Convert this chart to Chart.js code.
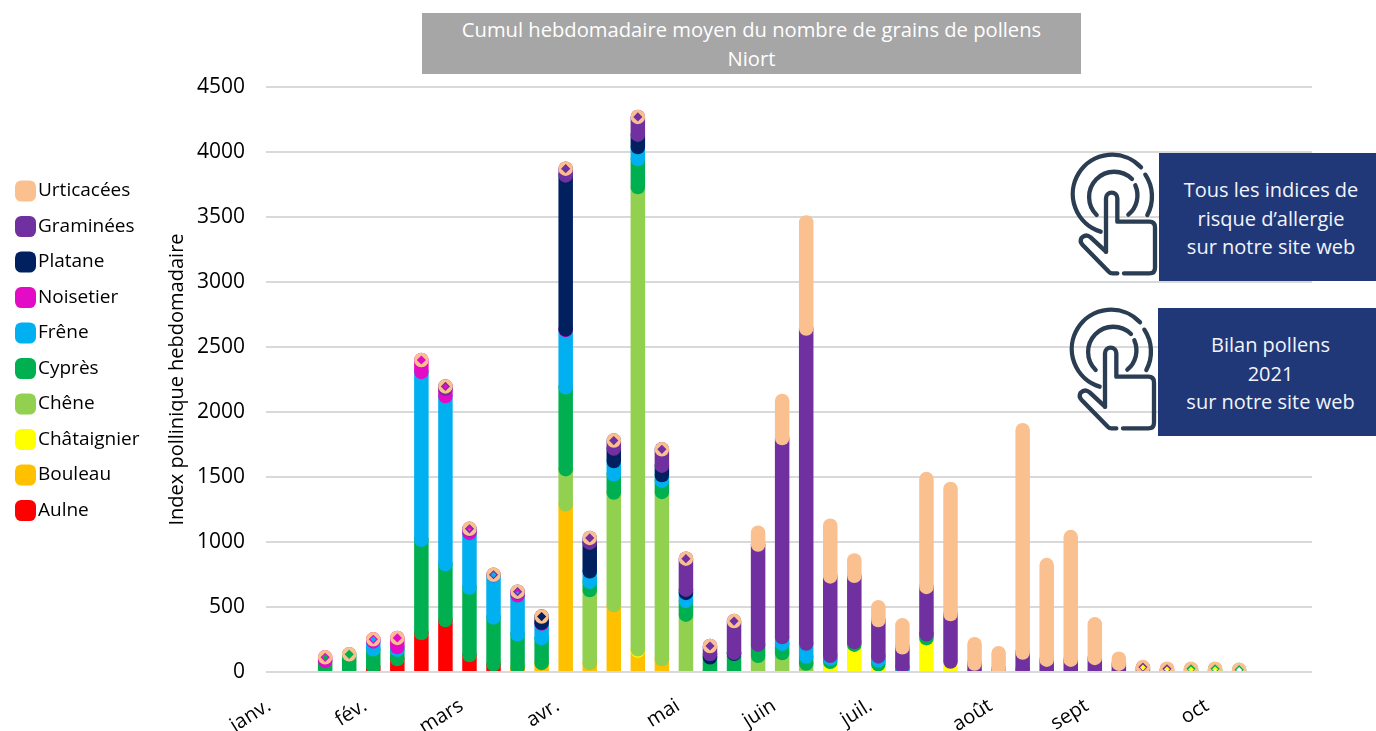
<!DOCTYPE html>
<html lang="fr">
<head>
<meta charset="utf-8">
<title>Cumul hebdomadaire moyen - Niort</title>
<script src="https://cdn.jsdelivr.net/npm/chart.js@4"></script>
<style>
  html, body { margin: 0; background: #fff; }
  #wrap { position: relative; width: 1376px; height: 731px; overflow: hidden; font-family: "Open Sans", sans-serif; }
  #chart { position: absolute; left: 0; top: 0; }
  .titleBox { position: absolute; left: 422px; top: 13px; width: 659px; height: 61px; background: #a6a6a6; color: #fff;
    font-size: 20.2px; line-height: 29px; text-align: center; padding-top: 2px; box-sizing: border-box; }
  .linkBox { position: absolute; left: 1159px; width: 217px; height: 128px; background: #203878; color: #f2f4fa;
    font-size: 20px; line-height: 28.5px; text-align: center; padding: 23px 0 0 7px; box-sizing: border-box; }
  .hand { position: absolute; width: 100px; height: 150px; fill: none; stroke: #2b3d52; stroke-width: 13; stroke-linecap: round; stroke-linejoin: round; }
</style>
</head>
<body>
<div id="wrap">
  <canvas id="chart" width="1376" height="731"></canvas>
  <div class="titleBox">Cumul hebdomadaire moyen du nombre de grains de pollens<br>Niort</div>
  <svg class="hand" style="left:1060px;top:140px" viewBox="0 0 300 450"><use href="#handIcon"/></svg>
  <svg class="hand" style="left:1059px;top:295px" viewBox="0 0 300 450">
    <g id="handIcon">
      <path d="M122 275 A118 118 0 1 1 243 82"/>
      <path d="M256 104 A118 118 0 0 1 262 225"/>
      <path d="M110 225 A75 75 0 1 1 216 117"/>
      <path d="M226 136 A75 75 0 0 1 205 224"/>
      <path d="M138 335 V175 A17 17 0 0 1 172 175 V245 H268 Q285 245 285 262 V383 Q285 400 268 400 H192"/>
      <path d="M172 400 H158 Q150 400 145 394 L68 315 Q58 305 65 293 Q78 280 92 292 L138 335"/>
    </g>
  </svg>
  <div class="linkBox" style="top:153px">Tous les indices de<br>risque d’allergie<br>sur notre site web</div>
  <div class="linkBox" style="top:308px;left:1158px;width:218px">Bilan pollens<br>2021<br>sur notre site web</div>
</div>
<script>
// one entry per week of the year
const weeks = [0,1,2,3,4,5,6,7,8,9,10,11,12,13,14,15,16,17,18,19,20,21,22,23,24,25,26,27,28,29,30,31,32,33,34,35,36,37,38,39,40,41,42];
const monthTicks = [0,4,8,12,17,21,25,30,34,39];
const monthLabels = ['janv.','fév.','mars','avr.','mai','juin','juil.','août','sept','oct'];
const yTicks = [0,500,1000,1500,2000,2500,3000,3500,4000,4500];

const aulne =       [0,0,0,0,40,100,300,400,130,60,10,0,0,0,0,0,0,0,0,0,0,0,0,0,0,0,0,0,0,0,0,0,0,0,0,0,0,0,0,0,0,0,0];
const bouleau =     [0,0,0,0,0,0,0,0,0,0,25,70,1290,70,515,165,100,5,5,0,0,0,0,0,0,0,0,0,0,0,0,0,0,0,0,0,0,0,0,0,0,0,0];
const chataignier = [0,0,0,0,0,0,0,0,0,0,0,0,0,0,0,10,0,0,0,0,5,0,5,78,210,60,15,260,80,5,0,0,10,5,3,0,14,12,5,12,0,0,0];
const chene =       [0,0,0,0,0,0,0,0,0,0,0,0,270,560,865,3555,1285,436,8,5,120,146,60,0,0,0,0,0,0,0,0,0,0,0,0,0,0,0,0,0,0,0,0];
const cypres =      [0,0,85,136,135,72,718,430,520,360,255,190,630,65,141,216,87,106,100,135,85,72,54,25,20,30,15,30,0,0,5,20,0,0,0,4,0,0,15,10,15,0,0];
const frene =       [0,0,0,0,60,20,1290,1293,420,325,300,113,440,80,102,92,43,61,0,0,0,51,100,22,0,30,15,0,0,0,0,0,0,0,0,0,0,0,0,0,0,0,0];
const noisetier =   [0,0,28,0,16,70,92,55,25,0,20,5,5,0,0,0,0,0,0,0,0,0,0,0,0,0,0,0,0,0,0,0,0,0,0,0,0,0,0,0,0,0,0];
const platane =     [0,0,0,0,0,0,0,0,0,0,0,48,1185,220,96,95,72,25,25,8,0,0,0,0,0,0,0,0,0,0,0,0,0,0,0,0,0,0,0,0,0,0,0];
const graminees =   [0,0,0,0,0,0,0,19,6,3,8,0,52,36,61,137,126,239,62,244,770,1531,2423,610,510,280,145,364,366,60,15,130,85,90,105,60,20,10,0,0,0,0,0];
const urticacees =  [0,0,0,0,0,0,0,0,0,0,0,0,0,0,0,0,0,0,0,0,92,285,816,390,118,98,169,830,962,149,125,1710,728,943,259,38,4,3,5,3,3,0,0];

const seriesNames = ['Aulne','Bouleau','Châtaignier','Chêne','Cyprès','Frêne','Noisetier','Platane','Graminées','Urticacées'];
const seriesValues = [aulne,bouleau,chataignier,chene,cypres,frene,noisetier,platane,graminees,urticacees];
const seriesColors = ['#ff0000','#ffc000','#ffff00','#92d050','#00b050','#00b0f0','#e30bc5','#002060','#7030a0','#fac090'];

const barWidth = 14.5;
const holeSizes = [4.6, 3, 1.4];

// pills that overlap upwards: every segment ends in a round cap, upper series on top,
// and a column with no urticacées keeps its little peach disc with the diamond in it
function diamond(ctx, x, y, size) {
  ctx.moveTo(x, y - size);
  ctx.lineTo(x + size, y);
  ctx.lineTo(x, y + size);
  ctx.lineTo(x - size, y);
  ctx.closePath();
}

const pillBars = {
  id: 'pillBars',
  afterLayout(chart) {
    const legend = chart.legend;
    legend.left = 6;
    legend.top = 165;
    legend.bottom = 545;
  },
  beforeDatasetsDraw(chart) {
    const { ctx, chartArea } = chart;
    const r = barWidth / 2;
    const top = seriesValues.length - 1;
    const hasPollen = weeks.map((w, j) => seriesValues.some(values => values[j] > 0));

    // a lower segment only gets a hole when it is short enough for the one below to show through
    const holes = weeks.map((w, j) => {
      const res = {};
      if (urticacees[j] >= 10) return res;
      res[top] = holeSizes[0];
      let depth = 1;
      for (let i = top - 1; i >= 0 && depth < holeSizes.length; i--) {
        if (!seriesValues[i][j]) continue;
        const bar = chart.getDatasetMeta(i).data[j];
        if (bar.base - bar.y > 4) break;
        res[i] = holeSizes[depth++];
      }
      return res;
    });

    ctx.save();
    ctx.beginPath();
    ctx.rect(chartArea.left, 0, chartArea.width, chartArea.bottom - 1);
    ctx.clip();
    seriesValues.forEach((values, i) => {
      const meta = chart.getDatasetMeta(i);
      ctx.fillStyle = seriesColors[i];
      meta.data.forEach((bar, j) => {
        if (!values[j] && !(i === top && hasPollen[j])) return;
        ctx.beginPath();
        ctx.roundRect(bar.x - r, bar.y - r, barWidth, bar.base - bar.y + barWidth, r);
        if (holes[j][i]) diamond(ctx, bar.x, bar.y, holes[j][i]);
        ctx.fill('evenodd');
      });
    });
    ctx.restore();
    return false;
  }
};

const datasets = seriesNames.map((name, i) => ({
  label: name,
  data: seriesValues[i],
  backgroundColor: seriesColors[i],
  borderColor: seriesColors[i],
  stack: 'pollens'
}));

new Chart(document.getElementById('chart'), {
  type: 'bar',
  data: { labels: weeks, datasets },
  plugins: [pillBars],
  options: {
    responsive: false,
    animation: false,
    layout: { autoPadding: false, padding: { left: 0, right: 64, top: 87, bottom: 0 } },
    plugins: {
      title: { display: false },
      tooltip: { enabled: false },
      legend: {
        position: 'left',
        align: 'start',
        reverse: true,
        labels: {
          usePointStyle: true,
          pointStyle: 'rectRounded',
          boxWidth: 6,
          boxHeight: 17.3,
          padding: 16.5,
          color: '#000',
          font: { family: '"Open Sans"', size: 19 }
        }
      }
    },
    scales: {
      x: {
        type: 'linear',
        stacked: true,
        offset: false,
        min: -0.46,
        max: 43.03,
        afterFit(s) { s.height = 59; },
        afterBuildTicks(s) { s.ticks = monthTicks.map(v => ({ value: v })); },
        grid: { display: false },
        border: { display: false },
        ticks: {
          autoSkip: false,
          minRotation: 32,
          maxRotation: 32,
          padding: 14,
          labelOffset: -8,
          color: '#000',
          font: { family: '"Open Sans"', size: 20 },
          callback: (v, i) => monthLabels[i]
        }
      },
      y: {
        stacked: true,
        min: 0,
        max: 4500,
        afterFit(s) { s.width = 266 - s.chart.legend.width; },
        afterBuildTicks(s) { s.ticks = yTicks.map(v => ({ value: v })); },
        grid: { color: '#d9d9d9', lineWidth: 2, drawTicks: false },
        border: { display: false },
        title: {
          display: true,
          text: 'Index pollinique hebdomadaire',
          color: '#000',
          font: { family: '"Open Sans"', size: 20 },
          padding: { top: 22, bottom: 0 }
        },
        ticks: {
          padding: 21,
          color: '#000',
          font: { family: '"Open Sans"', size: 21 },
          callback: v => String(v)
        }
      }
    }
  }
});
</script>
</body>
</html>
